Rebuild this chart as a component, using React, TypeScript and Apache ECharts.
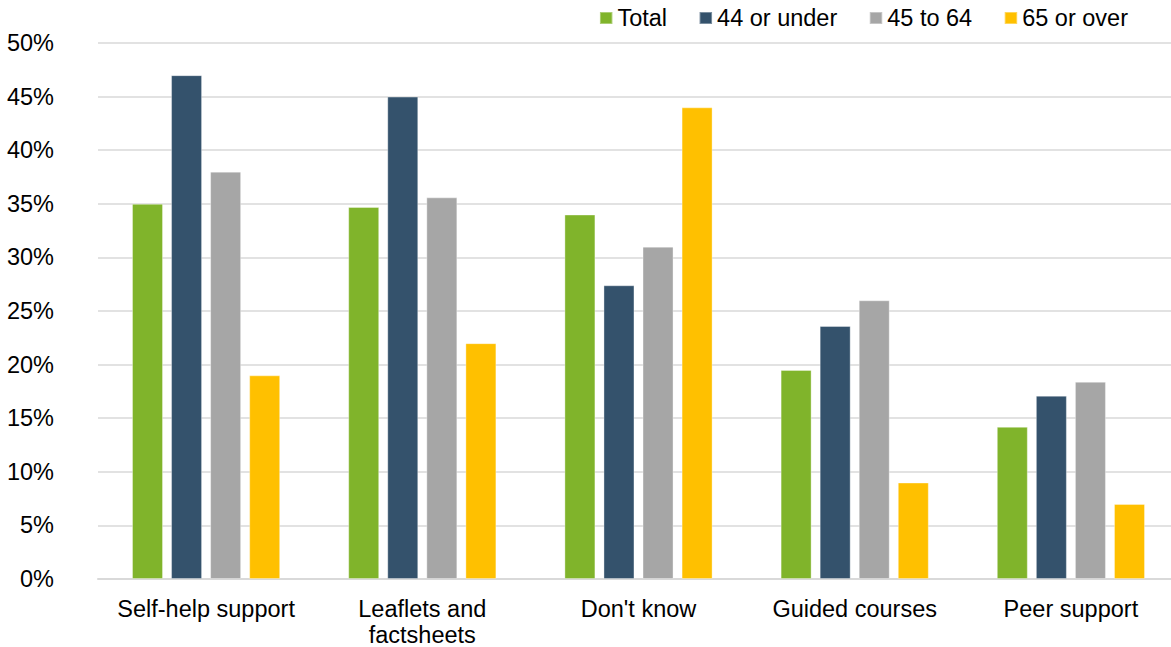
import React, { useEffect, useRef } from "react";
import * as echarts from "echarts";

// Survey categories along the x axis
const categories = [
  "Self-help support",
  "Leaflets and\nfactsheets",
  "Don't know",
  "Guided courses",
  "Peer support",
];

// Share of respondents (%) per age group
const total = [35.0, 34.7, 34.0, 19.5, 14.2];
const age44OrUnder = [47.0, 45.0, 27.4, 23.6, 17.1];
const age45To64 = [38.0, 35.6, 31.0, 26.0, 18.4];
const age65OrOver = [19.0, 22.0, 44.0, 9.0, 7.0];

const seriesNames = ["Total", "44 or under", "45 to 64", "65 or over"];
const seriesColors = ["#80B42B", "#34526C", "#A6A6A6", "#FFC000"];
const seriesData = [total, age44OrUnder, age45To64, age65OrOver];

// Y axis ticks, every 5%
const yMin = 0;
const yMax = 50;
const yStep = 5;

const FONT = "'Liberation Sans', Arial, sans-serif";
const FONT_SIZE = 23.5;

export default function App() {
  const ref = useRef<HTMLDivElement>(null);

  useEffect(() => {
    if (!ref.current) return;
    const chart = echarts.init(ref.current, undefined, { renderer: "svg" });

    chart.setOption({
      animation: false,
      backgroundColor: "#ffffff",
      textStyle: { fontFamily: FONT },
      // the plot area runs slightly past the right edge of the canvas
      grid: {
        left: 98,
        top: 43,
        width: 1081,
        height: 536,
        containLabel: false,
        outerBoundsMode: "none",
      },
      legend: {
        data: seriesNames,
        right: 43,
        top: 6,
        padding: 0,
        itemWidth: 12.5,
        itemHeight: 12,
        itemGap: 31.5,
        icon: "rect",
        textStyle: { fontFamily: FONT, fontSize: FONT_SIZE, color: "#000000" },
      },
      xAxis: {
        type: "category",
        data: categories,
        axisTick: { show: false },
        axisLine: { lineStyle: { color: "#d9d9d9", width: 2 } },
        axisLabel: {
          fontFamily: FONT,
          fontSize: FONT_SIZE,
          color: "#000000",
          margin: 17,
          lineHeight: 26,
          interval: 0,
        },
      },
      yAxis: {
        type: "value",
        min: yMin,
        max: yMax,
        interval: yStep,
        axisLine: { show: false },
        axisTick: { show: false },
        splitLine: { lineStyle: { color: "#d9d9d9", width: 1.5 } },
        axisLabel: {
          fontFamily: FONT,
          fontSize: FONT_SIZE,
          color: "#000000",
          margin: 44,
          formatter: (v: number) => `${v}%`,
        },
      },
      series: seriesNames.map((name, i) => ({
        name,
        type: "bar",
        data: seriesData[i],
        barWidth: 31,
        barGap: "26%",
        itemStyle: {
          color: seriesColors[i],
          borderColor: "rgba(255,255,255,0.35)",
          borderWidth: 1,
        },
      })),
    });

    return () => chart.dispose();
  }, []);

  return (
    <div
      ref={ref}
      style={{ position: "fixed", left: 0, top: 0, width: 1171, height: 647 }}
    />
  );
}
